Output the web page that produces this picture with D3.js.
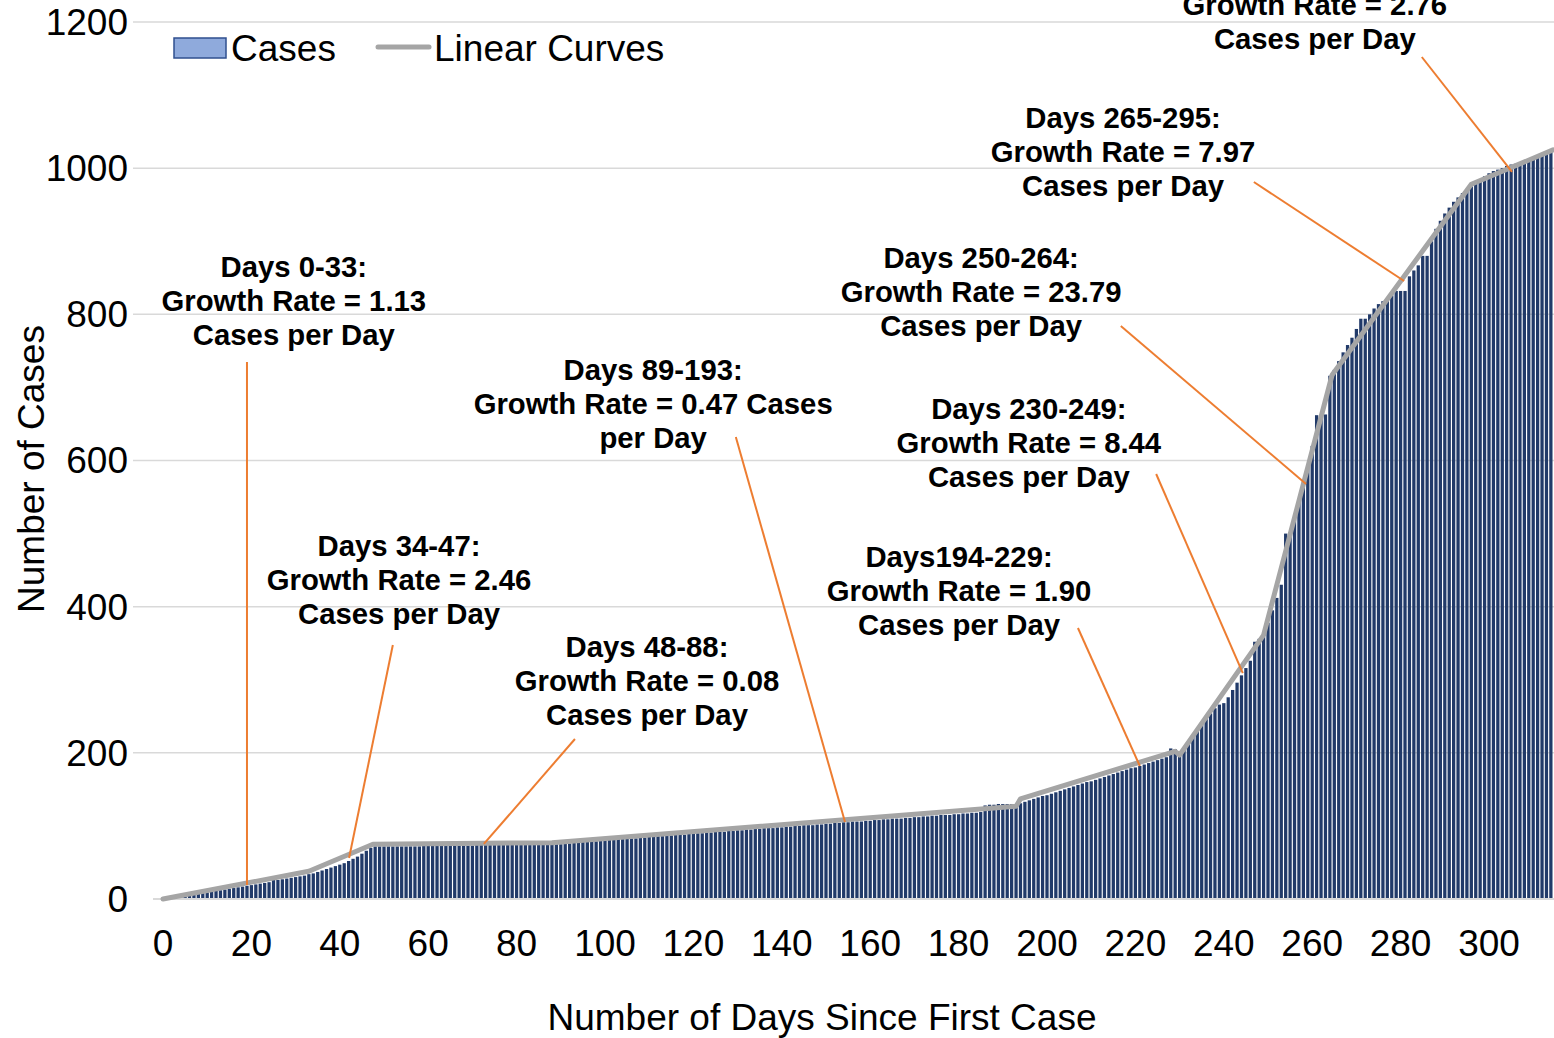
<!DOCTYPE html>
<html>
<head>
<meta charset="utf-8">
<script src="https://cdn.jsdelivr.net/npm/d3@7"></script>
<style>
  html, body { margin: 0; padding: 0; background: #ffffff; }
  svg { display: block; font-family: "Liberation Sans", Arial, sans-serif; }
</style>
</head>
<body>
<svg id="chart" width="1554" height="1038"></svg>
<script>
// ---- data ----
// cumulative cases, day 0 .. day 314
const cases = [
  0,1,2,3,4,4,5,6,7,8,9,10,11,12,13,14,15,16,17,18,19,20,21,22,23,31,26,27,28,29,30,31,32,34,
  35,37,39,41,43,45,47,49,52,55,58,62,66,70,
  72,72,72,72,72,72,72,72,72,72,72,
  73,73,73,73,73,73,73,73,73,73,73,73,
  74,74,74,74,74,74,74,74,74,74,
  75,75,75,75,75,75,75,75,
  75,75,76,76,77,77,78,78,79,79,
  80,80,81,81,82,82,83,83,83,84,
  84,85,85,86,86,87,87,88,88,88,
  89,89,90,90,91,91,92,92,92,93,
  93,94,94,95,95,96,96,97,97,97,
  98,98,99,99,100,100,101,101,101,102,
  102,103,103,104,104,105,105,106,106,106,
  107,107,108,108,109,109,110,110,110,111,
  111,112,112,113,113,114,114,115,115,115,
  116,116,117,117,118,118,119,
  128,129,129,130,130,130,130,
  126,
  131,133,135,137,139,141,142,144,146,148,150,152,154,156,158,160,161,163,165,167,169,171,173,175,177,179,180,182,184,186,188,190,192,194,206,205,
  199,206,214,222,230,238,246,254,261,266,268,276,286,296,306,316,326,352,356,359,
  378,395,412,430,500,502,520,545,570,595,620,662,662,663,716,
  724,736,748,758,768,780,794,794,800,808,814,818,822,826,832,832,832,852,860,867,880,880,900,917,928,938,946,954,960,966,970,
  975,980,985,989,993,996,998,1000,1003,1005,1006,1008,1010,1012,1014,1016,1018,1020,1022
];

// piecewise linear curves (vertices)
const curveDays   = [0, 33, 47.5, 88, 193, 194, 229, 230, 249, 264.5, 296, 314.5];
const curveValues = [0, 38, 75, 77, 127, 137, 202, 197, 361, 717, 978, 1025];

const xTicks = [0,20,40,60,80,100,120,140,160,180,200,220,240,260,280,300];
const yTicks = [0,200,400,600,800,1000,1200];

const seriesNames = ["Cases", "Linear Curves"];
const xTitle = "Number of Days Since First Case";
const yTitle = "Number of Cases";

// annotation texts and their anchors in data units (day, cases)
const annoLines = [
  ["Days 0-33:", "Growth Rate = 1.13", "Cases per Day"],
  ["Days 34-47:", "Growth Rate = 2.46", "Cases per Day"],
  ["Days 48-88:", "Growth Rate = 0.08", "Cases per Day"],
  ["Days 89-193:", "Growth Rate = 0.47 Cases", "per Day"],
  ["Days194-229:", "Growth Rate = 1.90", "Cases per Day"],
  ["Days 230-249:", "Growth Rate = 8.44", "Cases per Day"],
  ["Days 250-264:", "Growth Rate = 23.79", "Cases per Day"],
  ["Days 265-295:", "Growth Rate = 7.97", "Cases per Day"],
  ["Days 296-314:", "Growth Rate = 2.76", "Cases per Day"]
];
const annoTextDay   = [29.6, 53.4, 109.5, 110.9, 180.1, 195.9, 185.1, 217.2, 260.6];
const annoTextCases = [818.3, 436.5, 298.3, 677.3, 421.4, 624.0, 830.6, 1022.1, 1223.3];
const leaderFromDay   = [19.0, 52.0, 93.2, 129.6, 207.0, 224.7, 216.7, 246.8, 284.8];
const leaderFromCases = [734.8, 347.6, 218.9, 632.2, 370.8, 581.5, 784.0, 981.1, 1152.1];
const leaderToDay     = [19.0, 42.1, 72.6, 154.3, 221.0, 244.3, 258.6, 280.8, 305.2];
const leaderToCases   = [19.2, 56.1, 75.3, 105.4, 182.0, 309.2, 567.9, 845.6, 994.8];

// ---- drawing ----
const svg = d3.select("#chart");
const plotLeft = 133, plotRight = 1554;

const x = d3.scaleLinear().domain([0, 300]).range([163, 1489]);
const y = d3.scaleLinear().domain([0, 1200]).range([899, 22]);

const barColor = "#213a69";
const lineColor = "#a5a5a5";
const leaderColor = "#ed7d31";
const gridColor = "#d9d9d9";
const axisFont = 37;
const annoFont = 29.3;

// gridlines
svg.append("g").selectAll("line").data(yTicks.filter(d => d > 0)).join("line")
  .attr("x1", plotLeft).attr("x2", plotRight)
  .attr("y1", d => y(d)).attr("y2", d => y(d))
  .attr("stroke", gridColor).attr("stroke-width", 1.5);

// bars
const step = x(1) - x(0);
const bw = step * 0.74;
svg.append("g").selectAll("rect").data(cases).join("rect")
  .attr("x", (d, i) => x(i) - bw / 2)
  .attr("y", d => y(d))
  .attr("width", bw)
  .attr("height", d => y(0) - y(d))
  .attr("fill", barColor);

// baseline
svg.append("line")
  .attr("x1", plotLeft + 20).attr("x2", plotRight)
  .attr("y1", y(0)).attr("y2", y(0))
  .attr("stroke", gridColor).attr("stroke-width", 2);

// linear curves
const curvePts = curveDays.map((d, i) => [d, curveValues[i]]);
svg.append("path")
  .attr("d", d3.line().x(d => x(d[0])).y(d => y(d[1]))(curvePts))
  .attr("fill", "none").attr("stroke", lineColor)
  .attr("stroke-width", 5).attr("stroke-linejoin", "round").attr("stroke-linecap", "round");

// leader lines
svg.append("g").selectAll("line").data(annoLines).join("line")
  .attr("x1", (d, i) => x(leaderFromDay[i])).attr("y1", (d, i) => y(leaderFromCases[i]))
  .attr("x2", (d, i) => x(leaderToDay[i])).attr("y2", (d, i) => y(leaderToCases[i]))
  .attr("stroke", leaderColor).attr("stroke-width", 2);

// annotation text
const annoG = svg.append("g");
annoLines.forEach((lines, i) => {
  const cx = x(annoTextDay[i]), cy = y(annoTextCases[i]);
  const t = annoG.append("text")
    .attr("text-anchor", "middle")
    .attr("font-size", annoFont).attr("font-weight", "bold").attr("fill", "#000");
  lines.forEach((ln, j) => {
    const yy = cy + (j - 1) * 34;
    if (yy < -10) return;
    t.append("tspan").attr("x", cx).attr("y", yy).attr("dy", "0.35em").text(ln);
  });
});

// y tick labels
svg.append("g").selectAll("text").data(yTicks).join("text")
  .attr("x", 128).attr("y", d => y(d)).attr("dy", "0.35em")
  .attr("text-anchor", "end").attr("font-size", axisFont).attr("fill", "#000")
  .text(d => d);

// x tick labels
svg.append("g").selectAll("text").data(xTicks).join("text")
  .attr("x", d => x(d)).attr("y", 943).attr("dy", "0.35em")
  .attr("text-anchor", "middle").attr("font-size", axisFont).attr("fill", "#000")
  .text(d => d);

// axis titles
svg.append("text").attr("x", 822).attr("y", 1017).attr("dy", "0.35em")
  .attr("text-anchor", "middle").attr("font-size", axisFont).attr("fill", "#000").text(xTitle);
svg.append("text").attr("transform", "translate(31,469) rotate(-90)").attr("dy", "0.35em")
  .attr("text-anchor", "middle").attr("font-size", axisFont).attr("fill", "#000").text(yTitle);

// legend
const lg = svg.append("g");
lg.append("rect").attr("x", 174).attr("y", 38).attr("width", 52).attr("height", 20)
  .attr("fill", "#8faadc").attr("stroke", "#2f4f8f").attr("stroke-width", 1.5);
lg.append("text").attr("x", 231).attr("y", 48).attr("dy", "0.35em")
  .attr("font-size", axisFont).attr("fill", "#000").text(seriesNames[0]);
lg.append("line").attr("x1", 378).attr("x2", 429).attr("y1", 47).attr("y2", 47)
  .attr("stroke", lineColor).attr("stroke-width", 5).attr("stroke-linecap", "round");
lg.append("text").attr("x", 434).attr("y", 48).attr("dy", "0.35em")
  .attr("font-size", axisFont).attr("fill", "#000").text(seriesNames[1]);
</script>
</body>
</html>
